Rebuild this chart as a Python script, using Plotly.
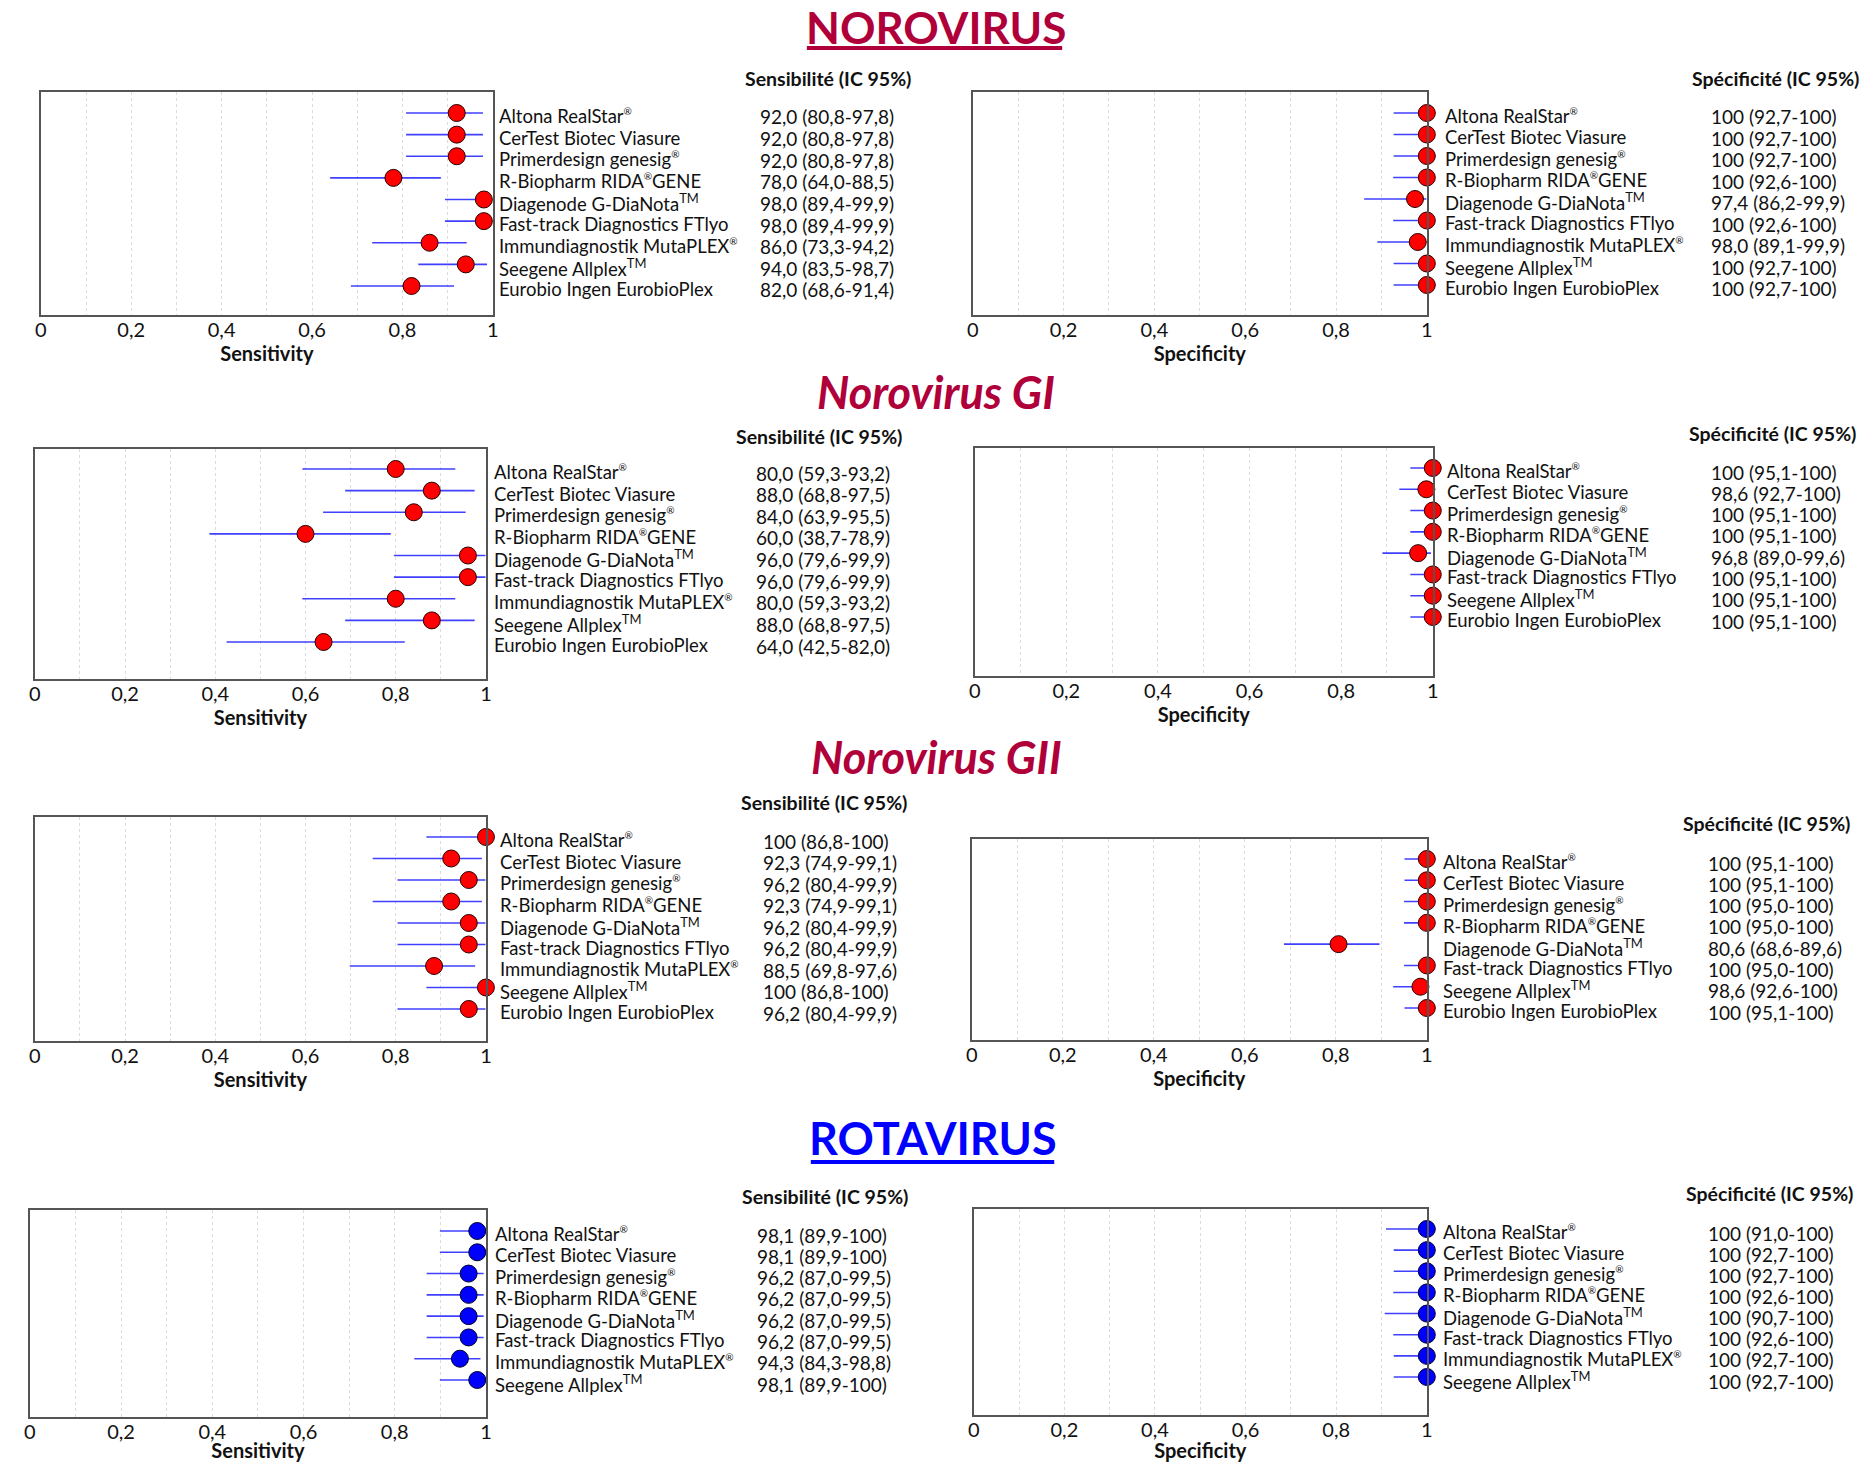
import plotly.graph_objects as go

# ---------------- DATA ----------------
R = "<sup><span style='font-size:10px'>®</span></sup>"
TM = "<sup>TM</sup>"
devices_9 = ["Altona RealStar" + R, "CerTest Biotec Viasure", "Primerdesign genesig" + R,
             "R-Biopharm RIDA" + R + "GENE", "Diagenode G-DiaNota" + TM, "Fast-track Diagnostics FTlyo",
             "Immundiagnostik MutaPLEX" + R, "Seegene Allplex" + TM, "Eurobio Ingen EurobioPlex"]
devices_8_no_immu = ["Altona RealStar" + R, "CerTest Biotec Viasure", "Primerdesign genesig" + R,
                     "R-Biopharm RIDA" + R + "GENE", "Diagenode G-DiaNota" + TM, "Fast-track Diagnostics FTlyo",
                     "Seegene Allplex" + TM, "Eurobio Ingen EurobioPlex"]
devices_8_no_eurobio = ["Altona RealStar" + R, "CerTest Biotec Viasure", "Primerdesign genesig" + R,
                        "R-Biopharm RIDA" + R + "GENE", "Diagenode G-DiaNota" + TM, "Fast-track Diagnostics FTlyo",
                        "Immundiagnostik MutaPLEX" + R, "Seegene Allplex" + TM]

# NOROVIRUS
noro_sens    = [92.0, 92.0, 92.0, 78.0, 98.0, 98.0, 86.0, 94.0, 82.0]
noro_sens_lo = [80.8, 80.8, 80.8, 64.0, 89.4, 89.4, 73.3, 83.5, 68.6]
noro_sens_hi = [97.8, 97.8, 97.8, 88.5, 99.9, 99.9, 94.2, 98.7, 91.4]
noro_spec    = [100, 100, 100, 100, 97.4, 100, 98.0, 100, 100]
noro_spec_lo = [92.7, 92.7, 92.7, 92.6, 86.2, 92.6, 89.1, 92.7, 92.7]
noro_spec_hi = [100, 100, 100, 100, 99.9, 100, 99.9, 100, 100]

# Norovirus GI
gi_sens    = [80.0, 88.0, 84.0, 60.0, 96.0, 96.0, 80.0, 88.0, 64.0]
gi_sens_lo = [59.3, 68.8, 63.9, 38.7, 79.6, 79.6, 59.3, 68.8, 42.5]
gi_sens_hi = [93.2, 97.5, 95.5, 78.9, 99.9, 99.9, 93.2, 97.5, 82.0]
gi_spec    = [100, 98.6, 100, 100, 96.8, 100, 100, 100]
gi_spec_lo = [95.1, 92.7, 95.1, 95.1, 89.0, 95.1, 95.1, 95.1]
gi_spec_hi = [100, 100, 100, 100, 99.6, 100, 100, 100]

# Norovirus GII
gii_sens    = [100, 92.3, 96.2, 92.3, 96.2, 96.2, 88.5, 100, 96.2]
gii_sens_lo = [86.8, 74.9, 80.4, 74.9, 80.4, 80.4, 69.8, 86.8, 80.4]
gii_sens_hi = [100, 99.1, 99.9, 99.1, 99.9, 99.9, 97.6, 100, 99.9]
gii_spec    = [100, 100, 100, 100, 80.6, 100, 98.6, 100]
gii_spec_lo = [95.1, 95.1, 95.0, 95.0, 68.6, 95.0, 92.6, 95.1]
gii_spec_hi = [100, 100, 100, 100, 89.6, 100, 100, 100]

# ROTAVIRUS
rota_sens    = [98.1, 98.1, 96.2, 96.2, 96.2, 96.2, 94.3, 98.1]
rota_sens_lo = [89.9, 89.9, 87.0, 87.0, 87.0, 87.0, 84.3, 89.9]
rota_sens_hi = [100, 100, 99.5, 99.5, 99.5, 99.5, 98.8, 100]
rota_spec    = [100, 100, 100, 100, 100, 100, 100, 100]
rota_spec_lo = [91.0, 92.7, 92.7, 92.6, 90.7, 92.6, 92.7, 92.7]
rota_spec_hi = [100, 100, 100, 100, 100, 100, 100, 100]

tick_vals = [0, 0.1, 0.2, 0.3, 0.4, 0.5, 0.6, 0.7, 0.8, 0.9, 1.0]
tick_text = ["0", "", "0,2", "", "0,4", "", "0,6", "", "0,8", "", "1"]

section_titles = ["<b>NOROVIRUS</b>", "<b><i>Norovirus GI</i></b>", "<b><i>Norovirus GII</i></b>", "<b>ROTAVIRUS</b>"]

# ---------------- LAYOUT HELPERS ----------------
OFF = 8
W, H = 1874 - 2 * OFF, 1470 - 2 * OFF
FONT = "Lato"
RED = "#FF0000"
BLUE = "#0000FF"
CRIMSON = "#B0003A"


def px(x):
    return (x - OFF) / W


def py(y):
    return 1 - (y - OFF) / H


def fmt(v):
    return "100" if v == 100 else f"{v:.1f}".replace(".", ",")


# panels: (devices, val, lo, hi, kind, marker colour, box(x0,x1,y0,y1), first row y, last row y, label x, value x, header(x,y))
panels = [
    (devices_9, noro_sens, noro_sens_lo, noro_sens_hi, "sens", RED, (35, 490, 92, 315), 113, 286, 494, 757, (827, 78)),
    (devices_9, noro_spec, noro_spec_lo, noro_spec_hi, "spec", RED, (973, 1430, 92, 315), 113, 285, 1446, 1714, (1781, 78)),
    (devices_9, gi_sens, gi_sens_lo, gi_sens_hi, "sens", RED, (29, 483, 449, 679), 469, 642, 489, 753, (818, 436)),
    (devices_8_no_immu, gi_spec, gi_spec_lo, gi_spec_hi, "spec", RED, (975, 1436, 448, 676), 468, 617, 1448, 1714, (1778, 433)),
    (devices_9, gii_sens, gii_sens_lo, gii_sens_hi, "sens", RED, (29, 483, 817, 1041), 837, 1009, 495, 760, (823, 802)),
    (devices_8_no_immu, gii_spec, gii_spec_lo, gii_spec_hi, "spec", RED, (972, 1430, 839, 1040), 859, 1008, 1444, 1711, (1772, 823)),
    (devices_8_no_eurobio, rota_sens, rota_sens_lo, rota_sens_hi, "sens", BLUE, (24, 483, 1210, 1417), 1231, 1380, 490, 754, (824, 1196)),
    (devices_8_no_eurobio, rota_spec, rota_spec_lo, rota_spec_hi, "spec", BLUE, (974, 1430, 1209, 1415), 1229, 1377, 1444, 1711, (1775, 1193)),
]

fig = go.Figure()
layout = dict(
    width=W, height=H, margin=dict(l=0, r=0, t=0, b=0), autosize=False,
    paper_bgcolor="white", plot_bgcolor="white", showlegend=False,
    font=dict(family=FONT, size=18, color="#111"),
)
annotations = []
shapes = []

for k, (devs, val, lo, hi, kind, mcol, box, fy, ly, lab_x, val_x, hdr) in enumerate(panels):
    n = len(devs)
    idx = "" if k == 0 else str(k + 1)
    xa, ya = "x" + idx, "y" + idx
    x0, x1, y0, y1 = box
    s = (ly - fy) / (n - 1)
    top_val = -(fy - y0) / s
    bot_val = (n - 1) + (y1 - ly) / s
    rows = list(range(n))

    fig.add_trace(go.Scatter(
        x=[v / 100 for v in val], y=rows, xaxis=xa, yaxis=ya, mode="markers",
        cliponaxis=False,
        marker=dict(symbol="circle", size=17, color=mcol,
                    line=dict(color="#2a0000" if mcol == RED else "#00002a", width=1)),
        error_x=dict(type="data", symmetric=False,
                     array=[(h - v) / 100 for h, v in zip(hi, val)],
                     arrayminus=[(v - l) / 100 for v, l in zip(val, lo)],
                     color="rgba(30,30,255,0.85)", thickness=1.6, width=0),
        hoverinfo="skip",
    ))

    layout["xaxis" + idx] = dict(
        domain=[px(x0), px(x1)], anchor=ya, range=[0, 1],
        tickmode="array", tickvals=tick_vals, ticktext=tick_text, ticks="",
        tickfont=dict(size=20, color="#111"), ticklabelstandoff=-4,
        showgrid=True, gridcolor="#dcdcdc", griddash="dot", gridwidth=1,
        showline=True, mirror=True, linecolor="#555", linewidth=1.5, zeroline=False,
        title=dict(text="<b>Sensitivity</b>" if kind == "sens" else "<b>Specificity</b>",
                   font=dict(size=20, color="#111"), standoff=2),
    )
    layout["yaxis" + idx] = dict(
        domain=[py(y1), py(y0)], anchor=xa, range=[bot_val, top_val],
        showticklabels=False, ticks="", showgrid=False, zeroline=False,
        showline=True, mirror=True, linecolor="#555", linewidth=1.5,
    )

    for i, d in enumerate(devs):
        annotations.append(dict(xref="paper", yref=ya, x=px(lab_x), y=i, text=d, showarrow=False,
                                xanchor="left", yanchor="middle", yshift=-3,
                                font=dict(size=18.5, color="#111", family=FONT)))
        annotations.append(dict(xref="paper", yref=ya, x=px(val_x), y=i,
                                text=f"{fmt(val[i])} ({fmt(lo[i])}-{fmt(hi[i])})", showarrow=False,
                                xanchor="left", yanchor="middle", yshift=-4,
                                font=dict(size=19, color="#111", family=FONT)))
    annotations.append(dict(xref="paper", yref="paper", x=px(hdr[0]), y=py(hdr[1]),
                            text="<b>Sensibilité (IC 95%)</b>" if kind == "sens" else "<b>Spécificité (IC 95%)</b>",
                            showarrow=False, xanchor="center", yanchor="middle",
                            font=dict(size=19.5, color="#111", family=FONT)))

# section titles
title_pos = [(936, 27, CRIMSON, 44), (936, 392, CRIMSON, 45), (936, 757, CRIMSON, 45), (933, 1138, BLUE, 45)]
for t, (tx, ty, tc, ts) in zip(section_titles, title_pos):
    annotations.append(dict(xref="paper", yref="paper", x=px(tx), y=py(ty), text=t, showarrow=False,
                            xanchor="center", yanchor="middle", height=38, valign="middle",
                            font=dict(size=ts, color=tc, family=FONT)))
# underlines
for (ux0, ux1, uy, uc) in [(806, 1063, 48, CRIMSON), (810, 1055, 1162, BLUE)]:
    shapes.append(dict(type="line", xref="paper", yref="paper", x0=px(ux0), x1=px(ux1), y0=py(uy), y1=py(uy),
                       line=dict(color=uc, width=4)))

layout["annotations"] = annotations
layout["shapes"] = shapes
fig.update_layout(**layout)
fig.write_html("out.html")
